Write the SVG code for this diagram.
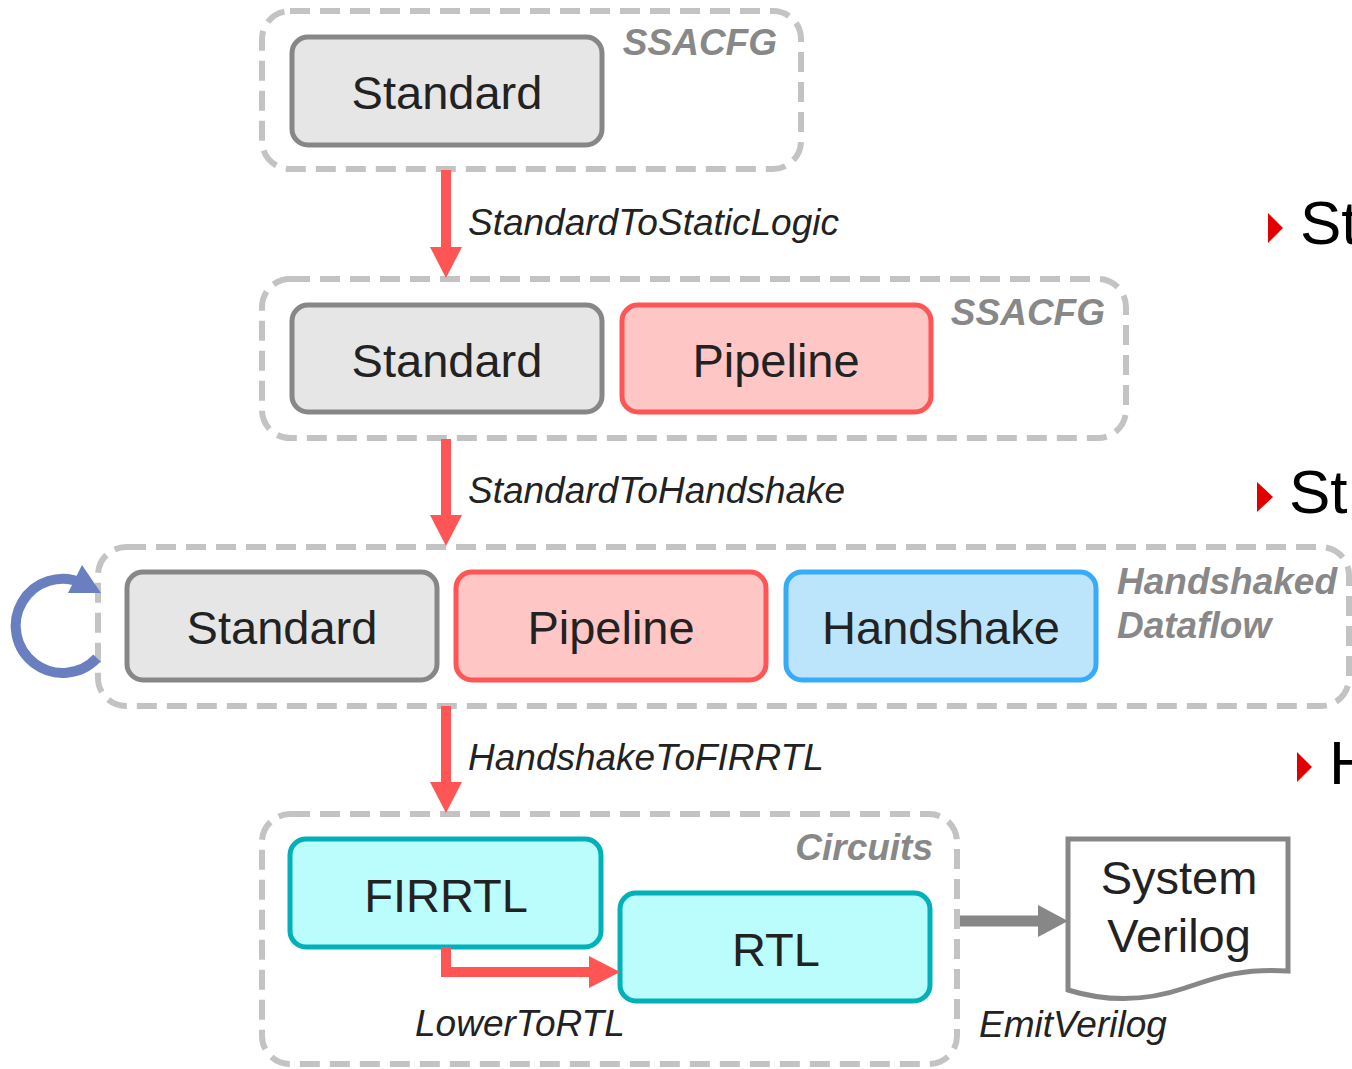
<svg xmlns="http://www.w3.org/2000/svg" width="1352" height="1069" viewBox="0 0 1352 1069">
<style>
.cont{fill:none;stroke:#c3c3c3;stroke-width:6;stroke-dasharray:20 10}
.std{fill:#e6e6e6;stroke:#878787;stroke-width:5}
.pipe{fill:#ffc6c6;stroke:#ff5555;stroke-width:5}
.hs{fill:#bce4fb;stroke:#38abf6;stroke-width:5}
.circ{fill:#bbfcfd;stroke:#00b1b9;stroke-width:5}
.bt{font-family:"Liberation Sans",Arial,sans-serif;font-size:47px;fill:#222;text-anchor:middle}
.cl{font-family:"Liberation Sans",Arial,sans-serif;font-size:37px;font-weight:bold;font-style:italic;fill:#888}
.al{font-family:"Liberation Sans",Arial,sans-serif;font-size:37px;font-style:italic;fill:#222}
.red{fill:none;stroke:#ff5555;stroke-width:10}
.side{font-family:"Liberation Sans",Arial,sans-serif;font-size:62px;fill:#000}
</style>
<defs>
<marker id="ah-red" markerUnits="userSpaceOnUse" viewBox="0 0 31 32" refX="0" refY="16" markerWidth="31" markerHeight="32" orient="auto">
<path d="M0,0 L31,16 L0,32 z" fill="#ff5555"/>
</marker>
<marker id="ah-gray" markerUnits="userSpaceOnUse" viewBox="0 0 30 32" refX="0" refY="16" markerWidth="30" markerHeight="32" orient="auto">
<path d="M0,0 L30,16 L0,32 z" fill="#878787"/>
</marker>
</defs>

<g id="container-ssacfg-1">
<rect class="cont" x="262" y="11" width="539" height="158" rx="28"/>
<text class="cl" x="777" y="55" text-anchor="end">SSACFG</text>
</g>
<g id="node-standard-1">
<rect class="std" x="292" y="37" width="310" height="108" rx="16"/>
<text class="bt" x="447" y="109">Standard</text>
</g>

<g id="container-ssacfg-2">
<rect class="cont" x="262" y="279" width="864" height="159" rx="28"/>
<text class="cl" x="1105" y="325" text-anchor="end">SSACFG</text>
</g>
<g id="node-standard-2">
<rect class="std" x="292" y="305" width="310" height="107" rx="16"/>
<text class="bt" x="447" y="377">Standard</text>
</g>
<g id="node-pipeline-2">
<rect class="pipe" x="622" y="305" width="309" height="107" rx="16"/>
<text class="bt" x="776" y="377">Pipeline</text>
</g>

<g id="container-handshaked">
<rect class="cont" x="98" y="547" width="1251" height="159" rx="28"/>
<text class="cl" x="1117" y="594">Handshaked</text>
<text class="cl" x="1117" y="638">Dataflow</text>
</g>
<g id="node-standard-3">
<rect class="std" x="127" y="572" width="310" height="108" rx="16"/>
<text class="bt" x="282" y="644">Standard</text>
</g>
<g id="node-pipeline-3">
<rect class="pipe" x="456" y="572" width="310" height="108" rx="16"/>
<text class="bt" x="611" y="644">Pipeline</text>
</g>
<g id="node-handshake">
<rect class="hs" x="786" y="572" width="310" height="108" rx="16"/>
<text class="bt" x="941" y="644">Handshake</text>
</g>

<g id="container-circuits">
<rect class="cont" x="262" y="814" width="695" height="250" rx="28"/>
<text class="cl" x="933" y="860" text-anchor="end">Circuits</text>
</g>
<g id="node-firrtl">
<rect class="circ" x="290" y="839" width="311" height="108" rx="16"/>
<text class="bt" x="446" y="912">FIRRTL</text>
</g>
<g id="node-rtl">
<rect class="circ" x="620" y="893" width="310" height="108" rx="16"/>
<text class="bt" x="776" y="966">RTL</text>
</g>

<g id="node-systemverilog">
<path d="M1068,839 H1288 V971 C1240,968 1215,978 1185,988 C1150,1000 1110,1003 1068,990 Z" fill="#fff" stroke="#878787" stroke-width="5"/>
<text class="bt" x="1179" y="894" font-size="46">System</text>
<text class="bt" x="1179" y="952" font-size="46">Verilog</text>
</g>

<g id="connectors">
<path class="red" d="M446,170 V247" marker-end="url(#ah-red)"/>
<path class="red" d="M446,439 V515" marker-end="url(#ah-red)"/>
<path class="red" d="M446,706 V782" marker-end="url(#ah-red)"/>
<path class="red" d="M446,947 V972 H589" marker-end="url(#ah-red)"/>
<path d="M960,921 H1038" fill="none" stroke="#878787" stroke-width="11" marker-end="url(#ah-gray)"/>
<path d="M97,658 A47,47 0 1 1 82,583" fill="none" stroke="#6a7fbf" stroke-width="10"/>
<path d="M82,565 L68,593 L101,593 Z" fill="#6a7fbf"/>
<text class="al" x="468" y="235">StandardToStaticLogic</text>
<text class="al" x="468" y="503">StandardToHandshake</text>
<text class="al" x="468" y="770">HandshakeToFIRRTL</text>
<text class="al" x="415" y="1036">LowerToRTL</text>
<text class="al" x="979" y="1037">EmitVerilog</text>
</g>

<g id="side-bullets">
<path d="M1268,213 L1283,228 L1268,243 Z" fill="#e00000"/>
<text class="side" x="1300" y="244">St</text>
<path d="M1257,482 L1273,497 L1257,512 Z" fill="#e00000"/>
<text class="side" x="1289" y="513">St</text>
<path d="M1297,752 L1312,767 L1297,782 Z" fill="#e00000"/>
<text class="side" x="1329" y="784">H</text>
</g>
</svg>
